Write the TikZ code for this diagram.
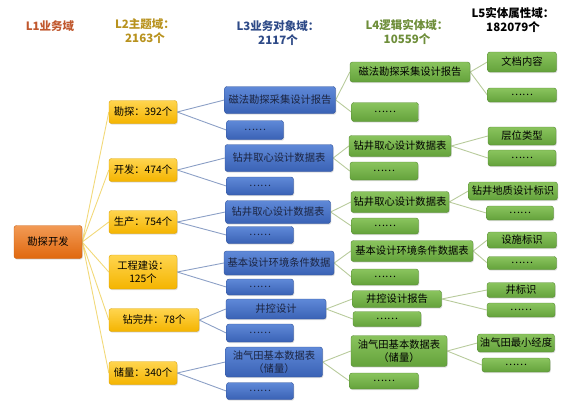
\documentclass[tikz,border=0pt]{standalone}
\usepackage{fontspec}
\setmainfont{Noto Sans CJK SC}
\usetikzlibrary{positioning, shadows, backgrounds}
\definecolor{hdorange}{HTML}{C0582E}
\definecolor{hdgold}{HTML}{B8921E}
\definecolor{hdblue}{HTML}{2E4A87}
\definecolor{hdgreen}{HTML}{6E8E3A}
\definecolor{bzorange}{HTML}{F29A55}
\definecolor{bzorangedk}{HTML}{E0680E}
\definecolor{bzyellow}{HTML}{FFD54F}
\definecolor{bzyellowdk}{HTML}{F4B400}
\definecolor{bzblue}{HTML}{5F89D8}
\definecolor{bzbluedk}{HTML}{3A62B5}
\definecolor{bzgreen}{HTML}{8AC45E}
\definecolor{bzgreendk}{HTML}{64A23B}
\definecolor{lnyellow}{HTML}{F2D97A}
\definecolor{lnblue}{HTML}{8CA0C6}
\definecolor{lngreen}{HTML}{B8CB9C}
\definecolor{bluetext}{HTML}{1B2440}

\begin{document}
\begin{tikzpicture}[x=1pt, y=-1pt,
  hdr/.style={align=center, font=\fontsize{11.5}{13.5}\selectfont\bfseries},
  base/.style={rectangle, rounded corners=2.5pt, align=center, inner sep=1pt,
    font=\fontsize{10.3}{13}\selectfont,
    drop shadow={opacity=0.25, shadow xshift=0.8pt, shadow yshift=-1.2pt}},
  rootbox/.style={base, draw=bzorangedk!90!black, top color=bzorange,
    bottom color=bzorangedk, minimum width=68pt, minimum height=33pt},
  topicbox/.style={base, draw=bzyellowdk!90!black, top color=bzyellow,
    bottom color=bzyellowdk, minimum width=68pt, minimum height=23pt},
  objbox/.style={base, draw=bzbluedk!85!black, top color=bzblue,
    bottom color=bzbluedk, text=bluetext},
  entbox/.style={base, draw=bzgreendk!85!black, top color=bzgreen,
    bottom color=bzgreendk},
  l1link/.style={lnyellow, line width=0.9pt},
  l2link/.style={lnblue, line width=0.9pt},
  l3link/.style={lngreen, line width=0.9pt}
]
\useasboundingbox (0,0) rectangle (575,408);

% ---- headers ----
\node[hdr, text=hdorange] (h1) at (50,26) {L1业务域};
\node[hdr, text=hdgold] (h2) at (145,31) {L2主题域：\\2163个};
\node[hdr, text=hdblue] (h3) at (278,33) {L3业务对象域：\\2117个};
\node[hdr, text=hdgreen] (h4) at (407,32) {L4逻辑实体域：\\10559个};
\node[hdr, text=black] (h5) at (513,20) {L5实体属性域：\\182079个};

% ---- L1 ----
\node[rootbox] (root) at (48,242) {勘探开发};

% ---- L2 ----
\node[topicbox] (kt) at (143,112) {勘探：392个};
\node[topicbox] (kf) at (143,170) {开发：474个};
\node[topicbox] (sc) at (143,222) {生产：754个};
\node[topicbox, minimum height=34pt] (gc) at (143,272) {工程建设：\\125个};
\node[topicbox, minimum width=90pt] (zw) at (154,320) {钻完井：78个};
\node[topicbox] (cl) at (143,373) {储量：340个};

% ---- L3 ----
\node[objbox, minimum width=111pt, minimum height=27pt] (kto) at (280,100) {磁法勘探采集设计报告};
\node[objbox, minimum width=57pt, minimum height=19pt] (ktod) at (255,130) {……};
\node[objbox, minimum width=108pt, minimum height=27pt] (kfo) at (279,158) {钻井取心设计数据表};
\node[objbox, minimum width=67pt, minimum height=18pt] (kfod) at (260,186) {……};
\node[objbox, minimum width=105pt, minimum height=23pt] (sco) at (278,212) {钻井取心设计数据表};
\node[objbox, minimum width=67pt, minimum height=17pt] (scod) at (260,235) {……};
\node[objbox, minimum width=110pt, minimum height=24pt] (gco) at (279,263) {基本设计环境条件数据};
\node[objbox, minimum width=67pt, minimum height=16pt] (gcod) at (260,287) {……};
\node[objbox, minimum width=100pt, minimum height=20pt] (zwo) at (276,309) {井控设计};
\node[objbox, minimum width=67pt, minimum height=18pt] (zwod) at (260,333) {……};
\node[objbox, minimum width=97pt, minimum height=30pt] (clo) at (274,362) {油气田基本数据表\\（储量）};
\node[objbox, minimum width=67pt, minimum height=17pt] (clod) at (260,391) {……};

% ---- L4 ----
\node[entbox, minimum width=120pt, minimum height=20pt] (kte) at (410,72) {磁法勘探采集设计报告};
\node[entbox, minimum width=67pt, minimum height=19pt] (kted) at (385,112) {……};
\node[entbox, minimum width=102pt, minimum height=21pt] (kfe) at (400,146) {钻井取心设计数据表};
\node[entbox, minimum width=68pt, minimum height=18pt] (kfed) at (384,171) {……};
\node[entbox, minimum width=98pt, minimum height=21pt] (sce) at (400,202) {钻井取心设计数据表};
\node[entbox, minimum width=67pt, minimum height=16pt] (sced) at (385,226) {……};
\node[entbox, minimum width=122pt, minimum height=21pt] (gce) at (412,251) {基本设计环境条件数据表};
\node[entbox, minimum width=67pt, minimum height=16pt] (gced) at (385,277) {……};
\node[entbox, minimum width=89pt, minimum height=17pt] (zwe) at (397,299) {井控设计报告};
\node[entbox, minimum width=68pt, minimum height=15pt] (zwed) at (387,319) {……};
\node[entbox, minimum width=96pt, minimum height=31pt] (cle) at (399,351) {油气田基本数据表\\（储量）};
\node[entbox, minimum width=69pt, minimum height=16pt] (cled) at (384,381) {……};

% ---- L5 ----
\node[entbox, minimum width=69pt, minimum height=20pt] (kta) at (522,62) {文档内容};
\node[entbox, minimum width=69pt, minimum height=14pt] (ktad) at (522,95) {……};
\node[entbox, minimum width=68pt, minimum height=18pt] (kfa) at (522,136) {层位类型};
\node[entbox, minimum width=68pt, minimum height=16pt] (kfad) at (522,158) {……};
\node[entbox, minimum width=89pt, minimum height=18pt] (sca) at (513,191) {钻井地质设计标识};
\node[entbox, minimum width=67pt, minimum height=14pt] (scad) at (520,213) {……};
\node[entbox, minimum width=69pt, minimum height=16pt] (gca) at (522,240) {设施标识};
\node[entbox, minimum width=69pt, minimum height=13pt] (gcad) at (522,263) {……};
\node[entbox, minimum width=68pt, minimum height=15pt] (zwa) at (521,290) {井标识};
\node[entbox, minimum width=68pt, minimum height=14pt] (zwad) at (521,310) {……};
\node[entbox, minimum width=77pt, minimum height=18pt] (cla) at (516,343) {油气田最小经度};
\node[entbox, minimum width=68pt, minimum height=14pt] (clad) at (516,365) {……};

% ---- links ----
\begin{scope}[on background layer]
\draw[l1link] (root.east) -- (kt.west) (root.east) -- (kf.west) (root.east) -- (sc.west)
  (root.east) -- (gc.west) (root.east) -- (zw.west) (root.east) -- (cl.west);

\draw[l2link] (kt.east) -- (kto.west) (kt.east) -- (ktod.west);
\draw[l2link] (kf.east) -- (kfo.west) (kf.east) -- (kfod.west);
\draw[l2link] (sc.east) -- (sco.west) (sc.east) -- (scod.west);
\draw[l2link] (gc.east) -- (gco.west) (gc.east) -- (gcod.west);
\draw[l2link] (zw.east) -- (zwo.west) (zw.east) -- (zwod.west);
\draw[l2link] (cl.east) -- (clo.west) (cl.east) -- (clod.west);

\draw[l3link] (kto.east) -- (kte.west) (kto.east) -- (kted.west);
\draw[l3link] (kfo.east) -- (kfe.west) (kfo.east) -- (kfed.west);
\draw[l3link] (sco.east) -- (sce.west) (sco.east) -- (sced.west);
\draw[l3link] (gco.east) -- (gce.west) (gco.east) -- (gced.west);
\draw[l3link] (zwo.east) -- (zwe.west) (zwo.east) -- (zwed.west);
\draw[l3link] (clo.east) -- (cle.west) (clo.east) -- (cled.west);

\draw[l3link] (kte.east) -- (kta.west) (kte.east) -- (ktad.west);
\draw[l3link] (kfe.east) -- (kfa.west) (kfe.east) -- (kfad.west);
\draw[l3link] (sce.east) -- (sca.west) (sce.east) -- (scad.west);
\draw[l3link] (gce.east) -- (gca.west) (gce.east) -- (gcad.west);
\draw[l3link] (zwe.east) -- (zwa.west) (zwe.east) -- (zwad.west);
\draw[l3link] (cle.east) -- (cla.west) (cle.east) -- (clad.west);
\end{scope}

\end{tikzpicture}
\end{document}
